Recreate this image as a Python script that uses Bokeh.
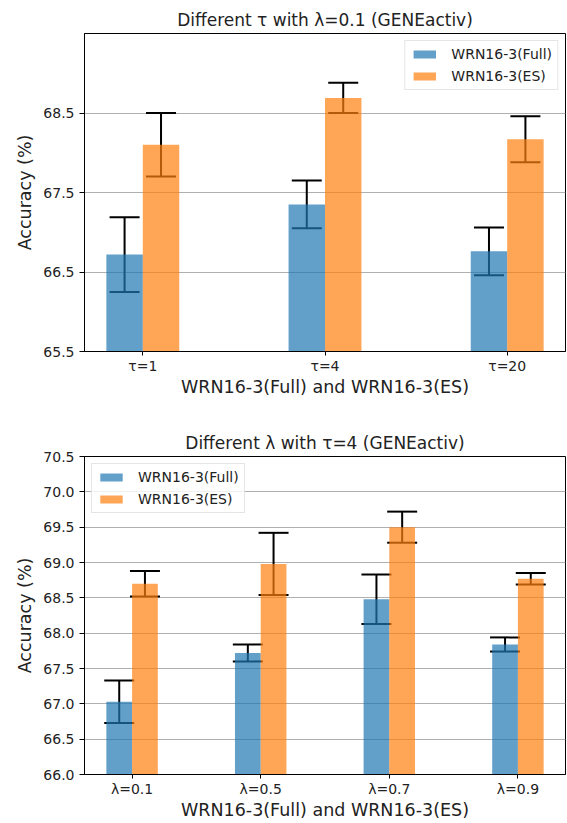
from bokeh.plotting import figure
from bokeh.layouts import column
from bokeh.models import ColumnDataSource, Whisker, TeeHead, FixedTicker, Range1d
from bokeh.embed import file_html
from bokeh.resources import INLINE

# ---------------- data ----------------
tau_labels = ["τ=1", "τ=4", "τ=20"]
tau_full = [66.72, 67.35, 66.76]
tau_full_err = [0.47, 0.30, 0.30]
tau_es = [68.10, 68.69, 68.17]
tau_es_err = [0.40, 0.19, 0.29]
tau_yticks = [65.5, 66.5, 67.5, 68.5]

lam_labels = ["λ=0.1", "λ=0.5", "λ=0.7", "λ=0.9"]
lam_full = [67.03, 67.72, 68.48, 67.84]
lam_full_err = [0.30, 0.12, 0.35, 0.10]
lam_es = [68.70, 68.98, 69.50, 68.77]
lam_es_err = [0.18, 0.44, 0.22, 0.08]
lam_yticks = [66.0, 66.5, 67.0, 67.5, 68.0, 68.5, 69.0, 69.5, 70.0, 70.5]

series_names = ["WRN16-3(Full)", "WRN16-3(ES)"]
title_top = "Different τ with λ=0.1 (GENEactiv)"
title_bot = "Different λ with τ=4 (GENEactiv)"
xlabel = "WRN16-3(Full) and WRN16-3(ES)"
ylabel = "Accuracy (%)"

BLUE = "#1f77b4"
ORANGE = "#ff7f0e"
FONT = "DejaVu Sans"
TXT = "#222222"
BW = 0.2


def make_fig(labels, full, full_err, es, es_err, yticks, yrange, title,
             height, border_top, border_bottom, legend_loc):
    n = len(labels)
    idx = list(range(n))
    pad = (n - 1 + 2 * BW) * 0.05
    p = figure(width=567, height=height, output_backend="svg",
               toolbar_location=None,
               x_range=Range1d(-BW - pad, n - 1 + BW + pad),
               y_range=Range1d(*yrange),
               min_border_left=84, min_border_right=2,
               min_border_top=border_top, min_border_bottom=border_bottom)
    p.title.text = title
    p.title.align = "center"
    p.title.text_font = FONT
    p.title.text_font_size = "17px"
    p.title.text_font_style = "normal"
    p.title.text_color = TXT
    p.title.standoff = 7

    xs_full = [i - BW / 2 for i in idx]
    xs_es = [i + BW / 2 for i in idx]
    p.vbar(x=xs_full, top=full, bottom=0, width=BW, fill_color=BLUE,
           fill_alpha=0.7, line_color=None, legend_label=series_names[0])
    p.vbar(x=xs_es, top=es, bottom=0, width=BW, fill_color=ORANGE,
           fill_alpha=0.7, line_color=None, legend_label=series_names[1])

    for xs, vals, errs in ((xs_full, full, full_err), (xs_es, es, es_err)):
        src = ColumnDataSource(dict(
            base=xs,
            upper=[v + e for v, e in zip(vals, errs)],
            lower=[v - e for v, e in zip(vals, errs)]))
        w = Whisker(source=src, base="base", upper="upper", lower="lower",
                    dimension="height", line_color="black", line_width=2,
                    upper_head=TeeHead(size=30, line_color="black", line_width=2),
                    lower_head=TeeHead(size=30, line_color="black", line_width=2))
        p.add_layout(w)

    p.xaxis.ticker = FixedTicker(ticks=idx)
    p.xaxis.major_label_overrides = {i: l for i, l in zip(idx, labels)}
    p.yaxis.ticker = FixedTicker(ticks=yticks)
    p.yaxis.major_label_overrides = {t: f"{t:.1f}" for t in yticks}
    for ax in (p.xaxis[0], p.yaxis[0]):
        ax.major_label_text_font = FONT
        ax.major_label_text_font_size = "14px"
        ax.major_label_text_color = TXT
        ax.axis_label_text_font = FONT
        ax.axis_label_text_font_size = "17.5px"
        ax.axis_label_text_font_style = "normal"
        ax.axis_label_text_color = TXT
        ax.major_tick_in = 0
        ax.minor_tick_line_color = None
        ax.axis_line_color = "black"
        ax.major_tick_line_color = "black"
    p.xaxis.major_tick_out = 4
    p.xaxis.major_label_standoff = 2
    p.xaxis.axis_label_standoff = 0
    p.yaxis.major_tick_out = 5
    p.yaxis.major_label_standoff = 5
    p.yaxis.axis_label_standoff = 5
    p.xaxis.axis_label = xlabel
    p.yaxis.axis_label = ylabel

    p.xgrid.grid_line_color = None
    p.ygrid.ticker = FixedTicker(ticks=yticks)
    p.ygrid.grid_line_color = "#b0b0b0"
    p.ygrid.grid_line_width = 1.2
    p.outline_line_color = "black"
    p.outline_line_width = 1

    lg = p.legend[0]
    lg.location = legend_loc
    lg.margin = 7
    lg.padding = 5
    lg.spacing = 6
    lg.glyph_width = 28
    lg.glyph_height = 10
    lg.label_height = 14
    lg.label_standoff = 13
    lg.label_text_font = FONT
    lg.label_text_font_size = "14px"
    lg.label_text_color = TXT
    lg.border_line_color = "#cccccc"
    lg.border_line_width = 1
    lg.background_fill_alpha = 0.8
    return p


p1 = make_fig(tau_labels, tau_full, tau_full_err, tau_es, tau_es_err,
              tau_yticks, (65.5, 69.5), title_top, 404, 33, 53, "top_right")
p2 = make_fig(lam_labels, lam_full, lam_full_err, lam_es, lam_es_err,
              lam_yticks, (66.0, 70.5), title_bot, 419, 52, 49, "top_left")

layout = column(p1, p2, spacing=0)
open("out.html", "w").write(file_html(layout, INLINE))
